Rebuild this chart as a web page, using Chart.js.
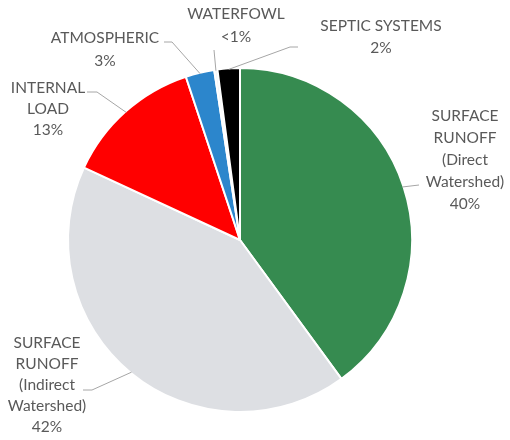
<!DOCTYPE html>
<html>
<head>
<meta charset="utf-8">
<script src="https://cdn.jsdelivr.net/npm/chart.js@4.4.0/dist/chart.umd.min.js"></script>
<style>
  html, body { margin: 0; padding: 0; background: #fff; }
</style>
</head>
<body>
<canvas id="piechart" width="510" height="440"></canvas>
<script>
// slices go clockwise from 12 o'clock
const categories = [
    ['SURFACE', 'RUNOFF', '(Direct', 'Watershed)'],
    ['SURFACE', 'RUNOFF', '(Indirect', 'Watershed)'],
    ['INTERNAL', 'LOAD'],
    ['ATMOSPHERIC'],
    ['WATERFOWL'],
    ['SEPTIC SYSTEMS']
];
const shares = [40, 42, 13, 2.7, 0.3, 2.1];
const percentLabels = ['40%', '42%', '13%', '3%', '<1%', '2%'];
const sliceColors = ['#368b50', '#dddfe3', '#ff0000', '#2c86cc', '#f4f6f8', '#000000'];

// where each label sits, and the leader line bend(s) before it reaches the slice edge
const labelSpots = [
    { x: 465, y: 116, lh: 22, path: [[419, 185]] },
    { x: 47, y: 343, lh: 21, path: [[83, 390], [92, 390]] },
    { x: 48, y: 88, lh: 21, path: [[87, 92], [97, 92]] },
    { x: 105, y: 38, lh: 23, path: [[164, 42], [172, 42]] },
    { x: 236, y: 14, lh: 23, path: [[214, 50]] },
    { x: 381, y: 26, lh: 22, path: [[298, 47], [290, 47]] }
];

const calloutPlugin = {
    id: 'callouts',
    afterDatasetsDraw(chart) {
        const ctx = chart.ctx;
        const arcs = chart.getDatasetMeta(0).data;
        ctx.save();
        arcs.forEach((arc, i) => {
            const p = arc.getProps(['x', 'y', 'startAngle', 'endAngle', 'outerRadius'], true);
            const mid = (p.startAngle + p.endAngle) / 2;
            const ex = p.x + Math.cos(mid) * (p.outerRadius - 1);
            const ey = p.y + Math.sin(mid) * (p.outerRadius - 1);
            const spot = labelSpots[i];

            ctx.strokeStyle = '#a6a6a6';
            ctx.lineWidth = 1;
            ctx.beginPath();
            spot.path.forEach((pt, k) => {
                if (k === 0) ctx.moveTo(pt[0], pt[1]);
                else ctx.lineTo(pt[0], pt[1]);
            });
            ctx.lineTo(ex, ey);
            ctx.stroke();

            const lines = categories[i].concat([percentLabels[i]]);
            ctx.fillStyle = '#595959';
            ctx.font = '15.5px Lato';
            ctx.textAlign = 'center';
            ctx.textBaseline = 'middle';
            lines.forEach((t, k) => {
                ctx.fillText(t, spot.x, spot.y + k * spot.lh);
            });
        });
        ctx.restore();
    }
};

var ctx = document.getElementById('piechart');
const piechart = new Chart(ctx, {
    type: 'pie',
    data: {
        labels: categories.map(c => c.join(' ')),
        datasets: [{
            data: shares,
            backgroundColor: sliceColors,
            borderColor: '#ffffff',
            borderWidth: 2,
            hoverOffset: 0
        }]
    },
    options: {
        responsive: false,
        animation: false,
        radius: 172,
        layout: { padding: { left: 0, right: 30, top: 40, bottom: 0 } },
        plugins: {
            legend: { display: false },
            tooltip: { enabled: false }
        }
    },
    plugins: [calloutPlugin]
});
</script>
</body>
</html>
